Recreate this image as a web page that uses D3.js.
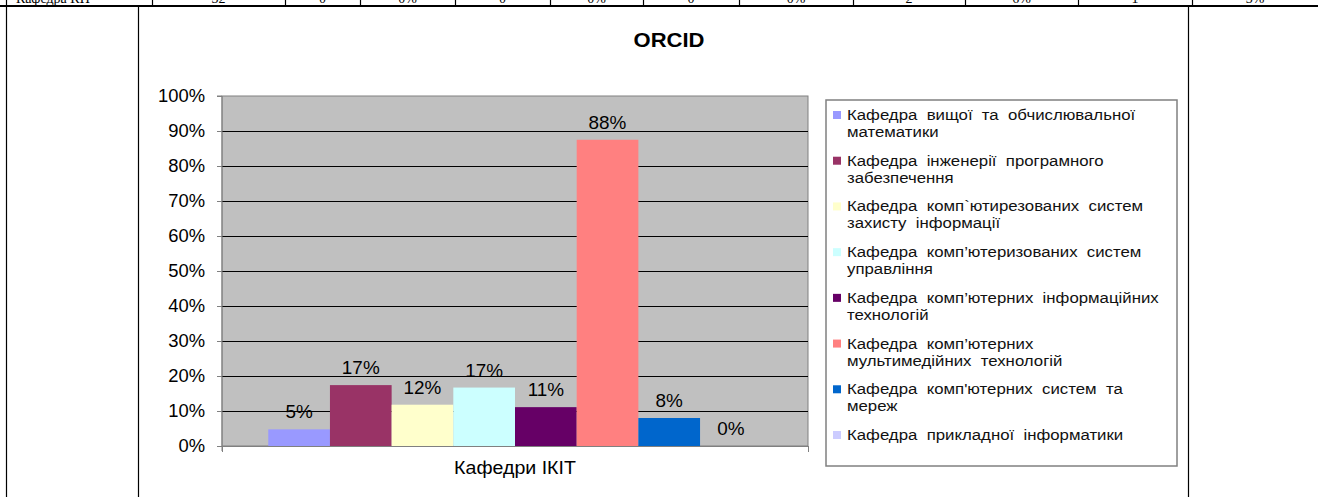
<!DOCTYPE html>
<html><head><meta charset="utf-8">
<script src="https://cdn.jsdelivr.net/npm/d3@7"></script>
<style>
html,body{margin:0;padding:0;background:#fff;overflow:hidden;}
svg{display:block;}
</style></head>
<body>
<svg id="c" width="1318" height="497"></svg>
<script>
// ---- data ----
const title = "ORCID";
const categoryLabel = "Кафедри ІКІТ";
const departments = [
  ["Кафедра  вищої  та  обчислювальної", "математики"],
  ["Кафедра  інженерії  програмного", "забезпечення"],
  ["Кафедра  комп`ютирезованих  систем", "захисту  інформації"],
  ["Кафедра  комп’ютеризованих  систем", "управління"],
  ["Кафедра  комп’ютерних  інформаційних", "технологій"],
  ["Кафедра  комп’ютерних", "мультимедійних  технологій"],
  ["Кафедра  комп'ютерних  систем  та", "мереж"],
  ["Кафедра  прикладної  інформатики"]
];
const values = [0.0476, 0.174, 0.118, 0.167, 0.111, 0.875, 0.08, 0];
const valueLabels = ["5%", "17%", "12%", "17%", "11%", "88%", "8%", "0%"];
const colors = ["#9999FF", "#993366", "#FFFFCC", "#CCFFFF", "#660066", "#FF8080", "#0066CC", "#CCCCFF"];
const yTicks = [0, 0.1, 0.2, 0.3, 0.4, 0.5, 0.6, 0.7, 0.8, 0.9, 1.0];
// table row fragment above the chart
const tableCells = ["Кафедра КН", "32", "0", "0%", "0", "0%", "0", "0%", "2", "6%", "1", "3%"];
const tableCols = [6, 152, 285, 360, 455, 550, 643, 739, 853, 965, 1078, 1192, 1318];

const svg = d3.select("#c");
const font = "'Liberation Sans', Arial, sans-serif";
// horizontally stretched text (the original chart was scaled wider than tall)
function stretch(sel, sx) {
  sel.each(function() {
    const t = d3.select(this);
    const x0 = +t.attr("x") || 0, y0 = +t.attr("y") || 0;
    t.attr("transform", `translate(${x0},${y0}) scale(${sx},1) translate(${-x0},${-y0})`);
  });
}

// ---- table fragment ----
const colScale = d3.scaleOrdinal().domain(d3.range(tableCols.length)).range(tableCols);
svg.append("g").selectAll("line").data(tableCols.slice(0, -1)).join("line")
  .attr("x1", d => d + 0.5).attr("x2", d => d + 0.5).attr("y1", 0).attr("y2", 6)
  .attr("stroke", "#000").attr("stroke-width", 1.2);
svg.append("g").selectAll("text").data(tableCells).join("text")
  .attr("x", (d, i) => i === 0 ? 16 : (colScale(i) + colScale(i + 1)) / 2)
  .attr("y", 3)
  .attr("text-anchor", (d, i) => i === 0 ? "start" : "middle")
  .attr("font-family", "'Liberation Serif','Times New Roman',serif")
  .attr("font-size", 14).attr("fill", "#000")
  .text(d => d);
svg.append("line").attr("x1", 0).attr("x2", 1318).attr("y1", 6).attr("y2", 6)
  .attr("stroke", "#000").attr("stroke-width", 2.2);
[6, 138, 1188].forEach(x => {
  svg.append("line").attr("x1", x + 0.5).attr("x2", x + 0.5).attr("y1", 7).attr("y2", 497)
    .attr("stroke", "#000").attr("stroke-width", 1.2);
});

// ---- chart ----
const plot = {left: 222, right: 808, top: 96, bottom: 446};

svg.append("text").attr("x", 669).attr("y", 47).attr("text-anchor", "middle")
  .attr("font-family", font).attr("font-weight", "bold").attr("font-size", 19.5)
  .text(title).call(stretch, 1.13);

const x = d3.scaleBand().domain(d3.range(values.length))
  .range([plot.left, plot.right]).paddingInner(0).paddingOuter(0.75);
const y = d3.scaleLinear().domain([0, 1]).range([plot.bottom, plot.top]);

svg.append("rect").attr("x", plot.left).attr("y", plot.top)
  .attr("width", plot.right - plot.left).attr("height", plot.bottom - plot.top)
  .attr("fill", "#C0C0C0").attr("stroke", "#808080").attr("stroke-width", 1);

// gridlines
svg.append("g").selectAll("line").data(yTicks.filter(t => t > 0 && t < 1)).join("line")
  .attr("x1", plot.left).attr("x2", plot.right)
  .attr("y1", d => Math.round(y(d)) + 0.5).attr("y2", d => Math.round(y(d)) + 0.5)
  .attr("stroke", "#000").attr("stroke-width", 1);

// bars
svg.append("g").selectAll("rect").data(values).join("rect")
  .attr("x", (d, i) => x(i)).attr("width", x.bandwidth())
  .attr("y", d => y(d)).attr("height", d => y(0) - y(d))
  .attr("fill", (d, i) => colors[i]);

// value labels
svg.append("g").selectAll("text").data(values).join("text")
  .attr("x", (d, i) => x(i) + x.bandwidth() / 2)
  .attr("y", d => y(d) - 11)
  .attr("text-anchor", "middle").attr("font-family", font).attr("font-size", 17.5)
  .attr("fill", "#000")
  .text((d, i) => valueLabels[i]).call(stretch, 1.08);

// y axis
const yAxis = d3.axisLeft(y).tickValues(yTicks).tickFormat(d3.format(".0%"))
  .tickSize(5).tickPadding(12);
const ya = svg.append("g").attr("transform", `translate(${plot.left},0)`).call(yAxis);
ya.select(".domain").attr("stroke", "#808080").attr("d", `M-5,${plot.top}H0V${plot.bottom + 5}`);
ya.selectAll(".tick line").attr("stroke", "#808080");
ya.selectAll(".tick text").attr("font-family", font).attr("font-size", 17.5).attr("fill", "#000")
  .call(stretch, 1.05);

// x axis
const xb = d3.scaleLinear().domain([0, 1]).range([plot.left, plot.right]);
const xAxis = d3.axisBottom(xb).tickValues([0, 1]).tickFormat("").tickSize(6).tickSizeOuter(0);
const xa = svg.append("g").attr("transform", `translate(0,${plot.bottom})`).call(xAxis);
xa.select(".domain").attr("stroke", "#808080");
xa.selectAll(".tick line").attr("stroke", "#808080");

svg.append("text").attr("x", (plot.left + plot.right) / 2).attr("y", 474)
  .attr("text-anchor", "middle").attr("font-family", font).attr("font-size", 17.5)
  .attr("fill", "#000").text(categoryLabel).call(stretch, 1.12);

// legend
const leg = svg.append("g");
leg.append("rect").attr("x", 826).attr("y", 100).attr("width", 351).attr("height", 366)
  .attr("fill", "#fff").attr("stroke", "#808080").attr("stroke-width", 1.5);
const rowY = d3.scaleLinear().domain([0, 7]).range([120, 440]);
const items = leg.selectAll("g.item").data(departments).join("g").attr("class", "item")
  .attr("transform", (d, i) => `translate(0,${rowY(i)})`);
items.append("rect").attr("x", 833).attr("y", -9).attr("width", 8).attr("height", 8)
  .attr("fill", (d, i) => colors[i]);
items.each(function(lines) {
  const t = d3.select(this).append("text").attr("font-family", font).attr("font-size", 15)
    .attr("fill", "#111").attr("x", 847).attr("y", 0).style("white-space", "pre");
  lines.forEach((ln, j) => {
    t.append("tspan").attr("x", 847).attr("y", j * 17).text(ln);
  });
  t.call(stretch, 1.12);
});
</script>
</body></html>
